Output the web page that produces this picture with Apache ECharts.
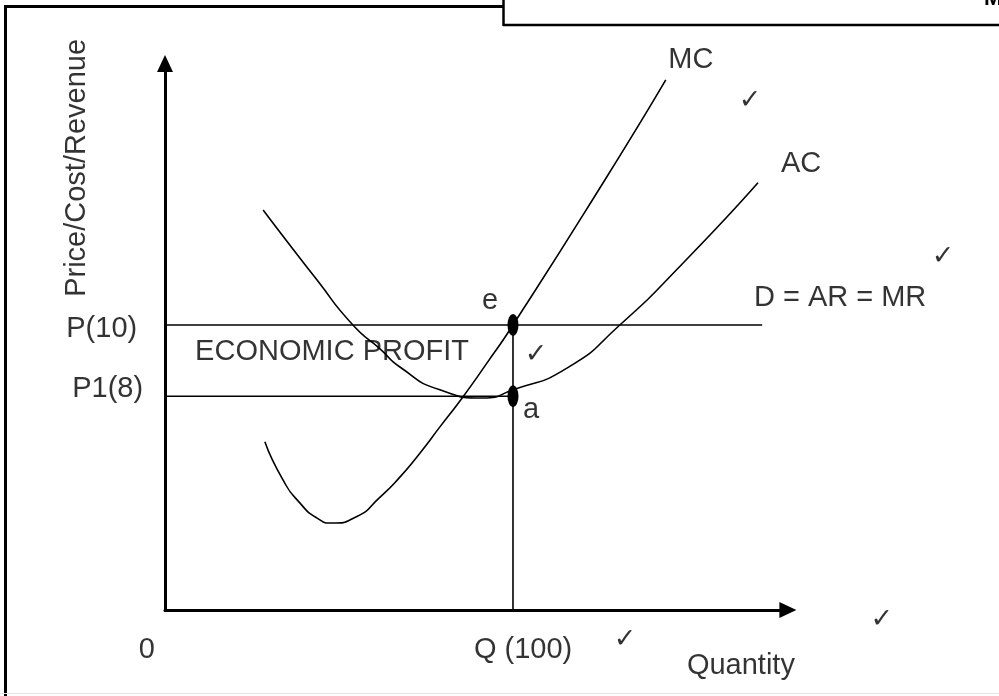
<!DOCTYPE html>
<html>
<head>
<meta charset="utf-8">
<script src="https://cdn.jsdelivr.net/npm/echarts@6/dist/echarts.min.js"></script>
<style>
html,body{margin:0;padding:0;background:#fff;}
#chart{width:999px;height:696px;}
</style>
</head>
<body>
<div id="chart"></div>
<script>
// ---- data ----
const mcQ    = [28.7, 33.9, 38.8, 43.7, 48.0, 55.0, 61.8, 67.5, 73.3, 79.0, 85.6, 92.5, 100, 126.4, 143.9];
const mcCost = [6.72, 5.65, 5.00, 4.58, 4.44, 4.62, 5.17, 5.73, 6.41, 7.14, 7.98, 8.93, 10.0, 14.07, 16.88];
const acQ    = [28.2, 43.7, 54.0, 61.8, 67.5, 79.0, 91.4, 100, 115.5, 130.7, 148.9, 170.4];
const acCost = [13.23, 11.26, 10.0, 9.33, 8.82, 8.18, 7.95, 8.18, 8.79, 10.0, 11.74, 13.99];
const priceP = 10;      // P(10)
const priceP1 = 8;      // P1(8)
const quantityQ = 100;  // Q (100)
const demandEndQ = 171.6;
const pointNames = ['e', 'a'];
const pointQ = [100, 100];
const pointP = [10, 8];

const noteText = ['MC', 'AC', 'D = AR = MR', 'e', 'a', 'ECONOMIC PROFIT', 'P(10)', 'P1(8)', '0', 'Q (100)', 'Quantity', 'Price/Cost/Revenue'];
const noteX    = [151.1, 182.8, 194.0, 93.4, 105.2, 48.0, -8.0, -6.3, -5.2, 102.9, 165.5, -25.3];
const noteY    = [17.45, 14.52, 10.76, 10.67, 7.61, 9.24, 9.89, 8.20, 0.88, 0.88, 0.43, 14.41];
const checkX   = [168.1, 223.6, 106.6, 132.2, 206.0];
const checkY   = [16.29, 11.91, 9.16, 1.16, 1.72];

// ---- build ----
const zip = (a, b) => a.map((v, i) => [v, b[i]]);
const FONT = 'Liberation Sans';
const blackLine = (w) => ({ color: '#000', width: w });

const notes = noteText.map((t, i) => {
  const lab = { show: true, formatter: t, position: 'inside', color: '#000', fontFamily: FONT, fontSize: 29 };
  if (t === 'P(10)' || t === 'P1(8)') lab.align = 'right';
  if (t === 'Price/Cost/Revenue') lab.rotate = 90;
  return { value: [noteX[i], noteY[i]], label: lab };
});
const checks = checkX.map((x, i) => ({
  value: [x, checkY[i]],
  label: { show: true, formatter: '\u2713', position: 'inside', color: '#000', fontFamily: 'DejaVu Sans', fontSize: 27 }
}));

const chart = echarts.init(document.getElementById('chart'), null, { renderer: 'canvas' });
chart.setOption({
  animation: false,
  backgroundColor: '#fff',
  grid: { left: 165, right: 211.1, top: 63.5, bottom: 86, containLabel: false },
  xAxis: {
    type: 'value', min: 0, max: 179,
    axisLine: { show: true, onZero: false, symbol: ['none', 'triangle'], symbolSize: [16, 17], lineStyle: blackLine(3) },
    axisTick: { show: false }, axisLabel: { show: false }, splitLine: { show: false }
  },
  yAxis: {
    type: 'value', min: 2, max: 17.34,
    axisLine: { show: true, onZero: false, symbol: ['none', 'triangle'], symbolSize: [16, 17], lineStyle: blackLine(3) },
    axisTick: { show: false }, axisLabel: { show: false }, splitLine: { show: false }
  },
  series: [
    { name: 'MC', type: 'line', data: zip(mcQ, mcCost), smooth: 0.6, symbol: 'none', lineStyle: blackLine(1.6), silent: true },
    { name: 'AC', type: 'line', data: zip(acQ, acCost), smooth: 0.6, symbol: 'none', lineStyle: blackLine(1.6), silent: true },
    { name: 'D = AR = MR', type: 'line', data: [[0, priceP], [demandEndQ, priceP]], symbol: 'none', lineStyle: blackLine(1.6), silent: true },
    { name: 'P1', type: 'line', data: [[0, priceP1], [quantityQ, priceP1]], symbol: 'none', lineStyle: blackLine(1.6), silent: true },
    { name: 'Q', type: 'line', data: [[quantityQ, 2], [quantityQ, priceP]], symbol: 'none', lineStyle: blackLine(1.6), silent: true },
    { name: 'points', type: 'scatter', data: zip(pointQ, pointP), symbol: 'circle', symbolSize: [11, 22], itemStyle: { color: '#000', opacity: 1 }, silent: true, z: 5 },
    { name: 'notes', type: 'scatter', data: notes, symbolSize: 1, itemStyle: { color: 'transparent' }, clip: false, silent: true, z: 6 },
    { name: 'checks', type: 'scatter', data: checks, symbolSize: 1, itemStyle: { color: 'transparent' }, clip: false, silent: true, z: 6 }
  ],
  graphic: [
    { type: 'line', shape: { x1: 5.5, y1: 5, x2: 5.5, y2: 696 }, style: { stroke: '#000', lineWidth: 3 } },
    { type: 'line', shape: { x1: 4, y1: 6.5, x2: 504, y2: 6.5 }, style: { stroke: '#000', lineWidth: 3 } },
    { type: 'line', shape: { x1: 503.5, y1: 0, x2: 503.5, y2: 26 }, style: { stroke: '#000', lineWidth: 2.5 } },
    { type: 'line', shape: { x1: 503, y1: 25, x2: 999, y2: 25 }, style: { stroke: '#000', lineWidth: 2.5 } },
    { type: 'line', shape: { x1: 0, y1: 693.5, x2: 999, y2: 693.5 }, style: { stroke: '#e4e4e4', lineWidth: 1 } },
    { type: 'text', left: 984, top: -12, style: { text: 'M', fill: '#000', font: 'bold 22px "Liberation Sans"' } }
  ]
});
</script>
</body>
</html>
